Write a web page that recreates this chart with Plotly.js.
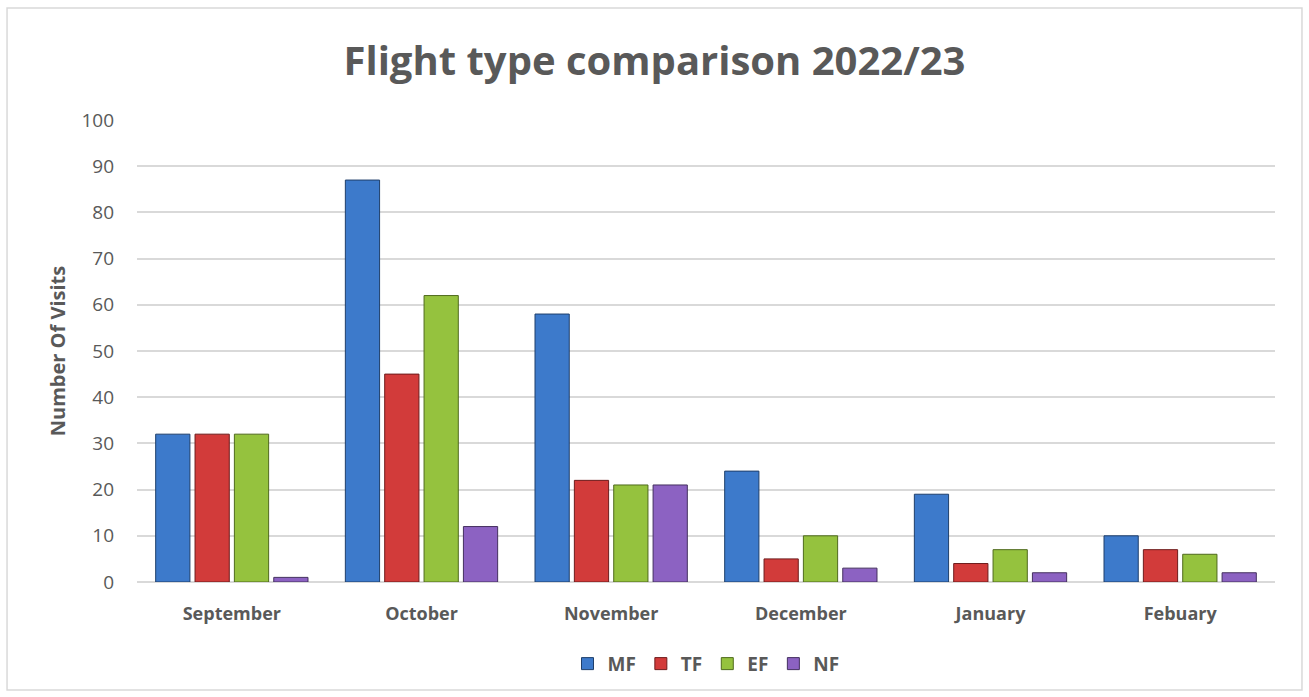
<!DOCTYPE html>
<html>
<head>
<meta charset="utf-8">
<script src="https://cdn.plot.ly/plotly-3.0.1.min.js"></script>
<style>html,body{margin:0;padding:0;background:#fff;}#chart{width:1309px;height:697px;}</style>
</head>
<body>
<div id="chart"></div>
<script>
const months = ["September", "October", "November", "December", "January", "Febuary"];
const seriesNames = ["MF", "TF", "EF", "NF"];
const mfValues = [32, 87, 58, 24, 19, 10];
const tfValues = [32, 45, 22, 5, 4, 7];
const efValues = [32, 62, 21, 10, 7, 6];
const nfValues = [1, 12, 21, 3, 2, 2];
const yTicks = [0, 10, 20, 30, 40, 50, 60, 70, 80, 90, 100];

const fills = ["#3d7acb", "#d23b3a", "#95c23e", "#8c62c2"];
const edges = ["#1f3f6b", "#6e1c1c", "#4f6a1d", "#44305f"];
const allValues = [mfValues, tfValues, efValues, nfValues];

const traces = allValues.map((vals, i) => ({
  type: "bar",
  name: seriesNames[i],
  x: months,
  y: vals,
  marker: { color: fills[i], line: { color: edges[i], width: 1 } },
  hoverinfo: "x+y+name"
}));

const font = "Open Sans, Liberation Sans, sans-serif";
const layout = {
  width: 1309, height: 697,
  margin: { l: 137, r: 34, t: 120, b: 115 },
  paper_bgcolor: "#ffffff",
  plot_bgcolor: "#ffffff",
  barmode: "group",
  bargap: 0.17,
  bargroupgap: 0.13,
  title: {
    text: "<b>Flight type comparison 2022/23</b>",
    font: { family: font, size: 40, color: "#595959" },
    x: 0.5, xanchor: "center", xref: "container",
    y: 0.913, yanchor: "middle"
  },
  xaxis: {
    type: "category",
    tickfont: { family: font, size: 18, color: "#595959", weight: "bold" },
    ticks: "", showline: false, showgrid: false, zeroline: false,
    ticklabelstandoff: 19
  },
  yaxis: {
    range: [0, 100],
    tickvals: yTicks,
    ticktext: yTicks.map(String),
    tickfont: { family: font, size: 19, color: "#595959" },
    showgrid: true, gridcolor: "#d9d9d9", gridwidth: 1.5,
    zeroline: true, zerolinecolor: "#d9d9d9", zerolinewidth: 1.5,
    showline: false, ticks: "",
    ticklabelstandoff: 22,
    title: {
      text: "<b>Number Of Visits</b>",
      font: { family: font, size: 20, color: "#595959" },
      standoff: 10
    }
  },
  legend: {
    orientation: "h",
    x: 0.5, xanchor: "center",
    y: -0.177, yanchor: "middle",
    font: { family: font, size: 19, color: "#595959", weight: "bold" },
    itemwidth: 30,
    traceorder: "normal"
  },
  shapes: [{
    type: "rect", xref: "paper", yref: "paper",
    x0: -0.1142, x1: 1.0237, y0: -0.2338, y1: 1.2424,
    line: { color: "#d9d9d9", width: 1.5 }, fillcolor: "rgba(0,0,0,0)", layer: "below"
  }],
  showlegend: true
};

Plotly.newPlot("chart", traces, layout, { displayModeBar: false, responsive: false });
</script>
</body>
</html>
